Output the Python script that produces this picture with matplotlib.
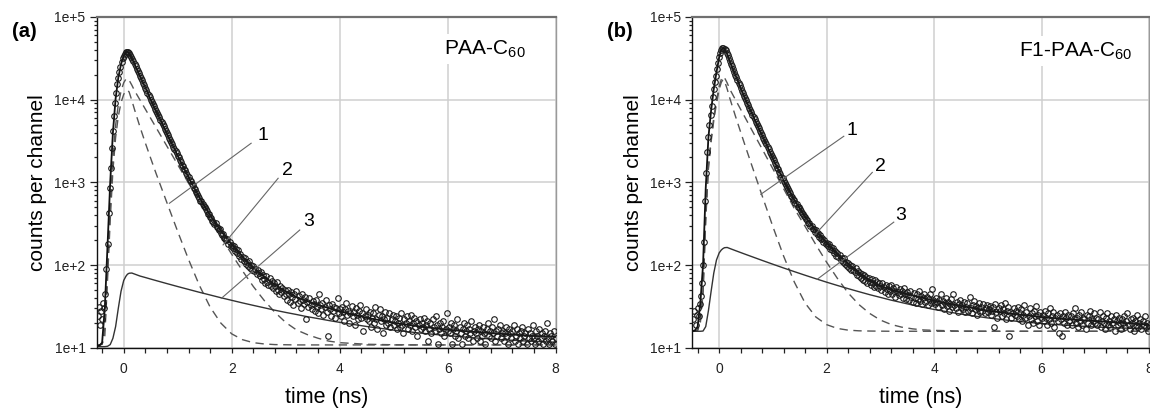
import numpy as np
import matplotlib
matplotlib.use("Agg")
import matplotlib.pyplot as plt
from matplotlib.ticker import FixedLocator, FixedFormatter, LogLocator, NullFormatter, MultipleLocator

plt.rcParams['font.family'] = ['Liberation Sans', 'DejaVu Sans']
plt.rcParams['mathtext.fontset'] = 'custom'
plt.rcParams['mathtext.rm'] = 'Liberation Sans'
plt.rcParams['mathtext.it'] = 'Liberation Sans:italic'
plt.rcParams['mathtext.bf'] = 'Liberation Sans:bold'

# ---------------- data ----------------
panel_tags = ["(a)", "(b)"]
sample_names = ["PAA-C$_{60}$", "F1-PAA-C$_{60}$"]
x_label = "time (ns)"
y_label = "counts per channel"
x_ticks = [0, 2, 4, 6, 8]
x_tick_labels = ["0", "2", "4", "6", "8"]
y_ticks = [1e1, 1e2, 1e3, 1e4, 1e5]
y_tick_labels = ["1e+1", "1e+2", "1e+3", "1e+4", "1e+5"]
component_labels = ["1", "2", "3"]

channel_start = -0.48   # ns, first channel
channel_width = 0.02    # ns

counts_a = [
    24, 31, 19, 28, 22, 35, 30, 45, 90, 180, 420, 850, 1500, 2600, 4200, 6300, 9000, 12000, 15500, 18500, 21500, 25000, 28500, 31500, 34000,
    36000, 37500, 38000, 37500, 36300, 34800, 33000, 30800, 29000, 27000, 25300, 23700, 22200, 20800, 19500, 18300, 17200, 16000, 15000, 14000, 13100, 12200, 11400, 10700, 10000,
    9350, 8850, 8300, 7800, 7300, 6900, 6450, 6100, 5700, 5380, 5030, 4750, 4450, 4200, 3900, 3700, 3450, 3270, 3050, 2880, 2700, 2540, 2380, 2250, 2100,
    2000, 1850, 1780, 1640, 1570, 1460, 1400, 1300, 1230, 1160, 1080, 1040, 960, 920, 860, 820, 770, 720, 690, 650, 600, 590, 545, 520, 500,
    470, 455, 415, 410, 380, 375, 345, 335, 310, 318, 285, 280, 262, 270, 245, 232, 240, 210, 215, 198, 205, 182, 190, 168, 176,
    160, 172, 148, 155, 138, 150, 128, 135, 118, 126, 112, 122, 104, 110, 98, 112, 92, 100, 88, 96, 84, 90, 78, 86, 80,
    74, 82, 66, 76, 68, 60, 74, 63, 58, 70, 55, 64, 52, 60, 56, 48, 62, 50, 45, 56, 47, 52, 42, 50, 45,
    38, 50, 44, 36, 47, 41, 33, 45, 39, 48, 35, 42, 37, 30, 44, 38, 34, 41, 22, 36, 31, 40, 33, 29, 37,
    34, 28, 38, 31, 26, 44, 33, 29, 35, 25, 31, 38, 27, 14, 33, 29, 24, 34, 28, 31, 23, 30, 40, 26, 29,
    24, 31, 27, 21, 29, 35, 25, 28, 20, 26, 32, 24, 27, 19, 30, 25, 22, 28, 33, 23, 26, 16, 24, 29, 22,
    25, 21, 27, 18, 23, 26, 20, 31, 22, 17, 25, 29, 21, 24, 15, 22, 27, 19, 23, 20, 26, 18, 22, 25, 19,
    21, 24, 17, 20, 23, 18, 26, 19, 15, 22, 20, 24, 17, 21, 19, 25, 16, 20, 23, 18, 21, 14, 19, 22, 17,
    20, 18, 23, 16, 19, 21, 12, 17, 20, 15, 22, 18, 16, 24, 19, 11, 17, 20, 15, 18, 21, 14, 17, 26, 16,
    18, 15, 20, 11, 17, 19, 14, 16, 22, 13, 18, 15, 11, 17, 20, 14, 16, 19, 13, 17, 15, 21, 12, 16, 18,
    15, 13, 17, 19, 12, 16, 14, 18, 15, 11, 17, 20, 14, 16, 13, 18, 15, 22, 12, 16, 14, 17, 19, 13, 15,
    16, 12, 15, 18, 14, 11, 17, 15, 13, 16, 19, 12, 14, 17, 11, 15, 13, 16, 18, 12, 14, 15, 11, 17, 13,
    15, 12, 14, 19, 13, 11, 16, 14, 12, 17, 13, 15, 11, 14, 16, 12, 20, 13, 11, 15, 14, 12, 16, 11, 13,
]

counts_b = [
    22, 28, 19, 25, 30, 24, 34, 42, 60, 100, 190, 600, 1300, 2300, 3500, 4900, 6500, 8400, 10800, 13500, 16500, 19500, 23500, 28000, 32500,
    37000, 40000, 42000, 42500, 41500, 39500, 37000, 34500, 31800, 29300, 27200, 25200, 23300, 21600, 20000, 18600, 17200, 16000, 14900, 13900, 12900, 12000, 11200, 10500, 9800,
    9150, 8600, 8000, 7500, 7000, 6580, 6150, 5800, 5420, 5100, 4770, 4480, 4200, 3950, 3700, 3470, 3260, 3050, 2870, 2680, 2520, 2360, 2220, 2070, 1950,
    1840, 1720, 1630, 1510, 1430, 1330, 1270, 1170, 1120, 1050, 980, 935, 870, 830, 775, 745, 690, 665, 620, 610, 565, 545, 510, 500, 470,
    455, 430, 415, 390, 385, 358, 350, 325, 318, 300, 296, 270, 275, 252, 262, 236, 242, 220, 228, 205, 214, 192, 200, 178, 186,
    168, 180, 158, 165, 150, 160, 140, 148, 128, 138, 124, 134, 115, 122, 108, 120, 102, 110, 96, 106, 92, 100, 86, 96, 88,
    82, 92, 76, 85, 74, 81, 70, 78, 66, 75, 64, 72, 60, 70, 63, 57, 68, 60, 54, 65, 56, 62, 52, 60, 55,
    50, 60, 54, 47, 58, 51, 44, 55, 49, 57, 45, 52, 48, 41, 54, 47, 43, 51, 45, 49, 40, 53, 44, 39, 47,
    43, 38, 49, 41, 36, 46, 40, 35, 44, 39, 48, 37, 42, 34, 40, 45, 36, 41, 33, 39, 44, 35, 51, 38, 36,
    34, 40, 36, 31, 38, 44, 33, 37, 29, 35, 40, 32, 36, 28, 34, 39, 31, 45, 33, 30, 36, 27, 34, 38, 31,
    33, 29, 36, 27, 31, 35, 28, 41, 30, 26, 33, 37, 29, 32, 25, 30, 35, 27, 31, 28, 34, 26, 30, 33, 27,
    29, 32, 25, 28, 31, 18, 34, 27, 23, 30, 28, 33, 24, 29, 26, 35, 22, 28, 31, 14, 27, 23, 26, 30, 25,
    28, 24, 31, 22, 26, 29, 21, 25, 33, 23, 27, 19, 24, 30, 22, 26, 20, 28, 24, 32, 21, 25, 19, 27, 23,
    25, 21, 28, 23, 19, 26, 22, 30, 20, 24, 27, 18, 23, 25, 21, 15, 26, 22, 14, 24, 20, 27, 23, 19, 25,
    21, 24, 19, 26, 22, 30, 20, 23, 18, 25, 21, 27, 19, 23, 22, 17, 25, 20, 24, 28, 19, 22, 21, 26, 20,
    23, 19, 22, 27, 18, 21, 24, 20, 17, 23, 26, 19, 21, 18, 24, 20, 22, 16, 25, 21, 19, 23, 20, 17, 22,
    20, 24, 18, 21, 26, 19, 17, 22, 20, 23, 16, 21, 19, 25, 18, 20, 22, 17, 21, 19, 24, 18, 20, 16, 19,
]

curve_t = [-0.5, -0.45, -0.4, -0.35, -0.3, -0.25, -0.2, -0.15, -0.1, -0.05, 0.0, 0.04, 0.07, 0.1, 0.15,
           0.2, 0.3, 0.4, 0.5, 0.6, 0.8, 1.0, 1.2, 1.4, 1.6, 1.8, 2.0, 2.2, 2.4, 2.6, 2.8, 3.0, 3.2, 3.4,
           3.6, 3.8, 4.0, 4.5, 5.0, 5.5, 6.0, 6.5, 7.0, 7.5, 8.0]

fit_a = [10.5, 10.6, 11.5, 30, 170, 1000, 4000, 10300, 18500, 26700, 34000, 37500, 38000, 36500, 31700,
         27000, 19500, 14000, 10000, 7300, 3900, 2100, 1150, 660, 400, 258, 178, 126, 94, 72, 58, 48, 41, 36.5,
         33, 30, 27.5, 23, 20, 18, 16.5, 15.5, 14.7, 14, 13.5]
comp1_a = [10.8, 10.8, 11, 14, 65, 350, 1400, 3500, 6300, 9200, 11600, 12800, 13000, 12400, 9800,
           7600, 4700, 3000, 1950, 1277, 568, 254, 117, 57, 31, 19.8, 14.7, 12.5, 11.5, 11.1, 10.9, 10.85, 10.8, 10.8,
           10.8, 10.8, 10.8, 10.8, 10.8, 10.8, 10.8, 10.8, 10.8, 10.8, 10.8]
comp2_a = [10.8, 10.8, 11, 17, 85, 480, 1950, 4900, 8700, 12700, 16000, 17700, 18000, 17200, 15000,
           12870, 9950, 7690, 5940, 4590, 2740, 1636, 977, 594, 359, 219, 135, 85, 55, 37.4, 26.8, 20.2, 16.4, 14.4,
           13.0, 12.0, 11.5, 11.0, 10.85, 10.8, 10.8, 10.8, 10.8, 10.8, 10.8]
comp3_a = [10.3, 10.3, 10.3, 10.3, 10.4, 10.9, 13, 18, 30, 48, 65, 73, 77.5, 79.5, 80,
           77.8, 73.6, 70.6, 67.6, 64.8, 59.6, 54.9, 50.7, 46.8, 43.4, 40.2, 37.4, 34.8, 32.5, 30.4, 28.4, 26.7, 25.2, 23.7,
           22.5, 21.3, 20.25, 18.05, 16.3, 15.0, 14.0, 13.15, 12.5, 12.0, 11.65]

fit_b = [15.8, 16.2, 18, 35, 100, 850, 3500, 7400, 13500, 21500, 32500, 40000, 42300, 41500, 35800,
         29300, 20000, 13900, 9800, 7000, 3700, 1950, 1050, 610, 385, 260, 185, 136, 104, 81, 66, 56, 50, 46,
         43, 40, 37, 32, 28, 25.5, 23.5, 22, 21, 20, 19]
comp1_b = [15.8, 15.8, 16.2, 20, 45, 350, 1450, 3100, 5600, 9000, 13300, 16200, 17500, 16800, 13400,
           10300, 6400, 4050, 2580, 1657, 688, 291, 128, 62, 34.6, 23.5, 19, 17.1, 16.3, 16.0, 15.9, 15.85, 15.8, 15.8,
           15.8, 15.8, 15.8, 15.8, 15.8, 15.8, 15.8, 15.8, 15.8, 15.8, 15.8]
comp2_b = [15.8, 15.8, 16.3, 22, 50, 380, 1580, 3350, 6100, 9700, 14500, 17600, 19000, 18400, 15900,
           13300, 10070, 7640, 5800, 4390, 2530, 1455, 837, 482, 293, 176, 108, 69, 46, 33.3, 26, 21.6, 19.1, 17.7,
           16.9, 16.4, 16.2, 15.9, 15.8, 15.8, 15.8, 15.8, 15.8, 15.8, 15.8]
comp3_b = [15.8, 15.8, 15.8, 15.8, 15.9, 18, 28, 48, 80, 115, 140, 152, 158, 162, 163,
           158.3, 149.6, 141.5, 133.9, 126.8, 113.7, 102.2, 92.0, 83.1, 75.2, 68.2, 62.0, 56.6, 51.8, 47.6, 43.8, 40.6, 37.6, 35.1,
           32.8, 30.8, 29.0, 25.5, 22.9, 21.0, 19.6, 18.6, 17.8, 17.3, 16.9]

# annotation anchors (data coords): text position, line start, line end
ann_a = [((2.58, 3670), (2.36, 2970), (0.846, 558)),
         ((3.04, 1375), (2.86, 1120), (1.84, 175)),
         ((3.42, 335), (3.26, 265), (1.81, 39.6))]
ann_b = [((2.48, 4240), (2.32, 3610), (0.775, 716)),
         ((3.00, 1575), (2.85, 1318), (1.77, 228)),
         ((3.37, 398), (3.25, 330), (1.83, 67.6))]

# ---------------- figure ----------------
fig = plt.figure(figsize=(11.5, 4.09), dpi=100)
axA = fig.add_axes([0.0841, 0.1499, 0.3991, 0.8086])
axB = fig.add_axes([0.6020, 0.1499, 0.3971, 0.8086])


def style(ax):
    ax.set_yscale('log')
    ax.set_xlim(-0.5, 8)
    ax.set_ylim(10, 1e5)
    ax.yaxis.set_major_locator(FixedLocator(y_ticks))
    ax.yaxis.set_major_formatter(FixedFormatter(y_tick_labels))
    ax.yaxis.set_minor_locator(LogLocator(base=10, subs=np.arange(2, 10)))
    ax.yaxis.set_minor_formatter(NullFormatter())
    ax.xaxis.set_major_locator(FixedLocator(x_ticks))
    ax.xaxis.set_major_formatter(FixedFormatter(x_tick_labels))
    ax.xaxis.set_minor_locator(MultipleLocator(0.4))
    ax.tick_params(which='both', direction='out', color='#222222', width=0.9)
    ax.tick_params(axis='y', which='major', length=5, pad=3, labelsize=10, labelcolor='#222222')
    ax.tick_params(axis='y', which='minor', length=2)
    ax.tick_params(axis='x', which='both', length=3.5)
    ax.tick_params(axis='x', which='major', pad=6.5, labelsize=10, labelcolor='#222222')
    ax.grid(True, which='major', color='#cfcfcf', lw=1.1)
    ax.set_axisbelow(True)
    ax.spines['left'].set_color('#111111')
    ax.spines['bottom'].set_color('#111111')
    ax.spines['left'].set_linewidth(1.0)
    ax.spines['bottom'].set_linewidth(1.0)
    ax.spines['top'].set_color('#707070')
    ax.spines['top'].set_linewidth(1.6)
    ax.spines['right'].set_color('#9a9a9a')
    ax.spines['right'].set_linewidth(1.0)
    ax.set_xlabel(x_label, fontsize=15.5)
    ax.xaxis.set_label_coords(0.5, -0.118)
    ax.set_ylabel(y_label, fontsize=15)
    ax.yaxis.set_label_coords(-0.108, 0.5)


def draw(ax, counts, fit, c1, c2, c3, ann, name, name_x, name_y):
    style(ax)
    t = channel_start + channel_width * np.arange(len(counts))
    ax.plot(curve_t, c1, color='#555555', lw=1.0, dashes=(6, 4), zorder=2)
    ax.plot(curve_t, c2, color='#555555', lw=1.0, dashes=(6, 4), zorder=2)
    ax.plot(curve_t, c3, color='#333333', lw=1.0, zorder=2)
    ax.plot(curve_t, fit, color='#111111', lw=1.3, zorder=3)
    ax.plot(t, counts, 'o', mfc='none', mec='#1a1a1a', ms=4.0, mew=0.8, zorder=4)
    for lab, (txt, p0, p1) in zip(component_labels, ann):
        ax.plot([p0[0], p1[0]], [p0[1], p1[1]], color='#666666', lw=0.8, zorder=5)
        ax.text(txt[0], txt[1], lab, fontsize=14, ha='center', va='center', zorder=6)
    ax.text(name_x, name_y, name, transform=ax.transAxes, fontsize=15, ha='right', va='baseline',
            bbox=dict(facecolor='white', edgecolor='none', pad=3), zorder=6)


draw(axA, counts_a, fit_a, comp1_a, comp2_a, comp3_a, ann_a, sample_names[0], 0.935, 0.887)
draw(axB, counts_b, fit_b, comp1_b, comp2_b, comp3_b, ann_b, sample_names[1], 0.962, 0.880)

fig.text(0.0209, 0.924, panel_tags[0], fontsize=14.5, fontweight='bold', ha='center', va='center')
fig.text(0.539, 0.9225, panel_tags[1], fontsize=14.5, fontweight='bold', ha='center', va='center')

fig.savefig("out.png", dpi=100)
